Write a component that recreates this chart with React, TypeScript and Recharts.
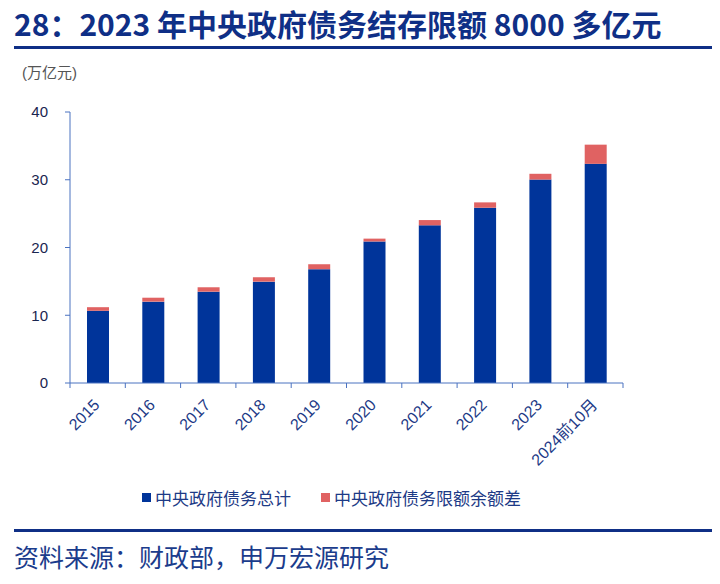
import React from 'react'
import { BarChart, Bar, XAxis, YAxis, Legend } from 'recharts'

const years = ['2015', '2016', '2017', '2018', '2019', '2020', '2021', '2022', '2023', '2024前10月']
// 中央政府债务余额（万亿元）
const debtTotal = [10.66, 12.01, 13.48, 14.96, 16.8, 20.89, 23.27, 25.87, 30.03, 32.35]
// 限额 - 余额
const limitGap = [0.53, 0.58, 0.65, 0.65, 0.73, 0.42, 0.78, 0.79, 0.85, 2.83]
const yTicks = [0, 10, 20, 30, 40]
const boundaryTicks = [0, 1, 2, 3, 4, 5, 6, 7, 8, 9, 10]

const data = years.map((year, i) => ({
  year,
  total: debtTotal[i],
  gap: limitGap[i],
  idx: i + 0.5
}))

const NAVY = '#0f2f86'
const BLUE = '#00349a'
const RED = '#e06262'
const AXIS = '#4a72c0'
const FONT = '"Liberation Sans", "Noto Sans CJK SC", sans-serif'

const YearTick = ({ x, y, payload }: any) => {
  const tx = x + 3
  const ty = y + 22
  return (
    <text
      x={tx}
      y={ty}
      transform={`rotate(-45, ${tx}, ${ty})`}
      textAnchor="end"
      fill="#1d3a86"
      fontSize={16}
      fontFamily={FONT}
    >
      {payload.value}
    </text>
  )
}

const LegendBox = () => (
  <div style={{ position: 'relative', height: 30, fontFamily: FONT, fontSize: 17, color: '#1d3a86' }}>
    <div style={{ position: 'absolute', left: 142, top: 2, display: 'flex', alignItems: 'center' }}>
      <span style={{ width: 9, height: 9, background: BLUE, display: 'inline-block', marginRight: 4 }} />
      <span>中央政府债务总计</span>
    </div>
    <div style={{ position: 'absolute', left: 321, top: 2, display: 'flex', alignItems: 'center' }}>
      <span style={{ width: 9, height: 9, background: RED, display: 'inline-block', marginRight: 4 }} />
      <span>中央政府债务限额余额差</span>
    </div>
  </div>
)

export default function App() {
  return (
    <div style={{ position: 'relative', width: 720, height: 584, margin: -8, background: '#fff', overflow: 'hidden' }}>
      <div
        style={{
          position: 'absolute',
          left: 14,
          top: 4,
          fontFamily: '"Noto Sans CJK SC", sans-serif',
          fontWeight: 700,
          fontSize: 30,
          color: NAVY,
          whiteSpace: 'nowrap',
          lineHeight: '38px'
        }}
      >
        28：2023 年中央政府债务结存限额 8000 多亿元
      </div>
      <div style={{ position: 'absolute', left: 14, top: 46, width: 700, height: 3, background: NAVY }} />
      <div
        style={{
          position: 'absolute',
          left: 22,
          top: 63,
          fontFamily: FONT,
          fontSize: 15,
          color: '#555',
          lineHeight: '20px'
        }}
      >
        (万亿元)
      </div>

      <div style={{ position: 'absolute', left: 0, top: 0 }}>
        <BarChart
          width={720}
          height={584}
          data={data}
          margin={{ top: 112, right: 97, left: 0, bottom: 71 }}
          barSize={22}
        >
          <XAxis
            xAxisId="a"
            type="number"
            dataKey="idx"
            domain={[0, 10]}
            ticks={boundaryTicks}
            height={1}
            stroke={AXIS}
            tickSize={5}
            tickFormatter={() => ''}
            allowDataOverflow
          />
          <XAxis
            xAxisId="b"
            dataKey="year"
            height={99}
            axisLine={false}
            tickLine={false}
            tickSize={0}
            tickMargin={0}
            interval={0}
            tick={<YearTick />}
          />
          <YAxis
            width={70}
            domain={[0, 40]}
            ticks={yTicks}
            stroke={AXIS}
            tickSize={5}
            tickMargin={17}
            tick={{ fill: '#1a2550', fontSize: 15, fontFamily: FONT }}
          />
          <Legend verticalAlign="bottom" height={30} wrapperStyle={{ left: 0, width: 720 }} content={<LegendBox />} />
          <Bar xAxisId="b" dataKey="total" stackId="s" fill={BLUE} isAnimationActive={false} />
          <Bar xAxisId="b" dataKey="gap" stackId="s" fill={RED} isAnimationActive={false} />
        </BarChart>
      </div>

      <div style={{ position: 'absolute', left: 14, top: 529, width: 700, height: 3, background: NAVY }} />
      <div
        style={{
          position: 'absolute',
          left: 14,
          top: 540,
          fontFamily: '"Noto Sans CJK SC", sans-serif',
          fontSize: 25,
          color: '#1b3c8c',
          whiteSpace: 'nowrap',
          lineHeight: '32px'
        }}
      >
        资料来源：财政部，申万宏源研究
      </div>
    </div>
  )
}
